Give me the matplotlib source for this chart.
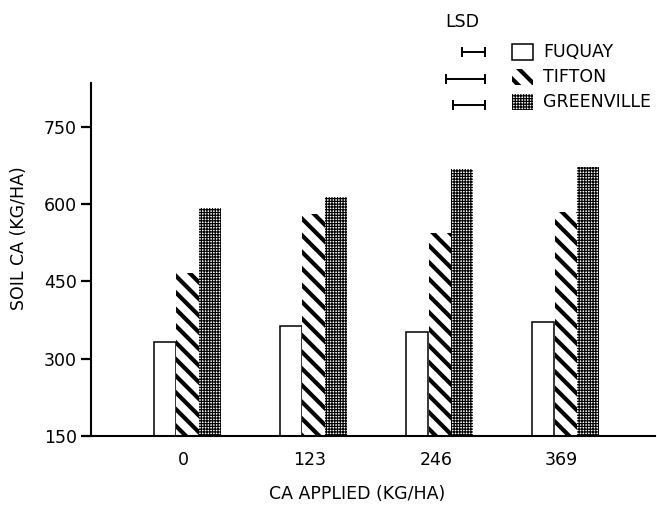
import matplotlib
matplotlib.use("Agg")
import matplotlib.pyplot as plt
from matplotlib.patches import Rectangle
from matplotlib import font_manager as fm
import numpy as np

# --- data ---
CA_APPLIED = ["0", "123", "246", "369"]
SOILS = ["FUQUAY", "TIFTON", "GREENVILLE"]
fuquay = [332, 364, 352, 371]
tifton = [466, 581, 544, 585]
greenville = [593, 614, 668, 672]
LSD = [45, 76, 62]   # kg/ha, drawn as horizontal bars in the key

# narrow face if there is one, else plain DejaVu a bit smaller
_fp = fm.FontProperties(family='Open Sans', stretch='condensed')
if 'ondensed' in fm.findfont(_fp, fallback_to_default=False):
    plt.rcParams['font.family'] = ['Open Sans', 'DejaVu Sans']
    plt.rcParams['font.stretch'] = 'condensed'
    FS = 15
else:
    plt.rcParams['font.family'] = ['DejaVu Sans']
    FS = 12.5
plt.rcParams['hatch.color'] = 'black'

W, H = 657, 505
fig = plt.figure(figsize=(W / 100, H / 100), dpi=100)

def fx(px):
    return px / W

def fy(py):
    return 1 - py / H

# main axes placed in pixel terms
ax = fig.add_axes([fx(91), fy(436), fx(655) - fx(91), fy(83) - fy(436)])
YMIN, YMAX = 150, 835
ax.set_ylim(YMIN, YMAX)
ax.set_xlim(-0.766, 3.71)

x = np.arange(len(CA_APPLIED))
bw = 0.175
off = 0.18

b1 = ax.bar(x - off, np.array(fuquay) - YMIN, bw, bottom=YMIN,
            facecolor='white', edgecolor='black', linewidth=1.1)
b2 = ax.bar(x, np.array(tifton) - YMIN, bw, bottom=YMIN,
            facecolor='white', edgecolor='black', linewidth=0, hatch='\\\\')
b3 = ax.bar(x + off, np.array(greenville) - YMIN, bw, bottom=YMIN,
            facecolor='white', edgecolor='black', linewidth=0, hatch='++++++')

def set_hlw(patches, lw):
    for p in patches:
        if hasattr(p, 'set_hatch_linewidth'):
            p.set_hatch_linewidth(lw)

set_hlw(b2, 3.0)
set_hlw(b3, 0.85)

for s in ['top', 'right']:
    ax.spines[s].set_visible(False)
ax.spines['left'].set_linewidth(1.5)
ax.spines['bottom'].set_linewidth(1.5)

ax.set_yticks([150, 300, 450, 600, 750])
ax.tick_params(axis='y', direction='out', length=7, width=1.6, pad=3, labelsize=FS)
ax.set_xticks(x - 0.03)
ax.set_xticklabels(CA_APPLIED)
ax.tick_params(axis='x', length=0, pad=11, labelsize=FS)

ax.set_ylabel("SOIL CA (KG/HA)", fontsize=FS)
ax.yaxis.set_label_coords(-0.112, 0.561)
ax.set_xlabel("CA APPLIED (KG/HA)", fontsize=FS)
ax.xaxis.set_label_coords(0.472, -0.14)

# --- key: LSD bars + legend swatches ---
fig.text(fx(462), fy(22), "LSD", fontsize=FS, ha='center', va='center')

px_per_unit = (436 - 83) / (YMAX - YMIN)
ax_lsd = fig.add_axes([fx(430), fy(118), fx(485) - fx(430), fy(39) - fy(118)])
ax_lsd.set_xlim(-(485 - 430) / px_per_unit, 0)
ax_lsd.set_ylim(2.49, -0.49)
ax_lsd.axis('off')
for i, v in enumerate(LSD):
    ax_lsd.plot([-v, 0], [i, i], color='black', linewidth=1.4,
                marker='|', markersize=7, markeredgewidth=1.4, clip_on=False)

rows_y = [52, 77, 102]
swatches = [dict(facecolor='white', edgecolor='black', linewidth=1.1),
            dict(facecolor='white', edgecolor='black', linewidth=0, hatch='\\\\'),
            dict(facecolor='white', edgecolor='black', linewidth=0, hatch='++++++')]
hlws = [None, 3.0, 0.85]
for name, yc, st, hl in zip(SOILS, rows_y, swatches, hlws):
    r = Rectangle((fx(512), fy(yc + 8)), fx(533) - fx(512), fy(yc - 8) - fy(yc + 8),
                  transform=fig.transFigure, **st)
    if hl is not None:
        set_hlw([r], hl)
    fig.add_artist(r)
    fig.text(fx(543), fy(yc), name, fontsize=FS, ha='left', va='center')

fig.savefig("out.png", dpi=100)
